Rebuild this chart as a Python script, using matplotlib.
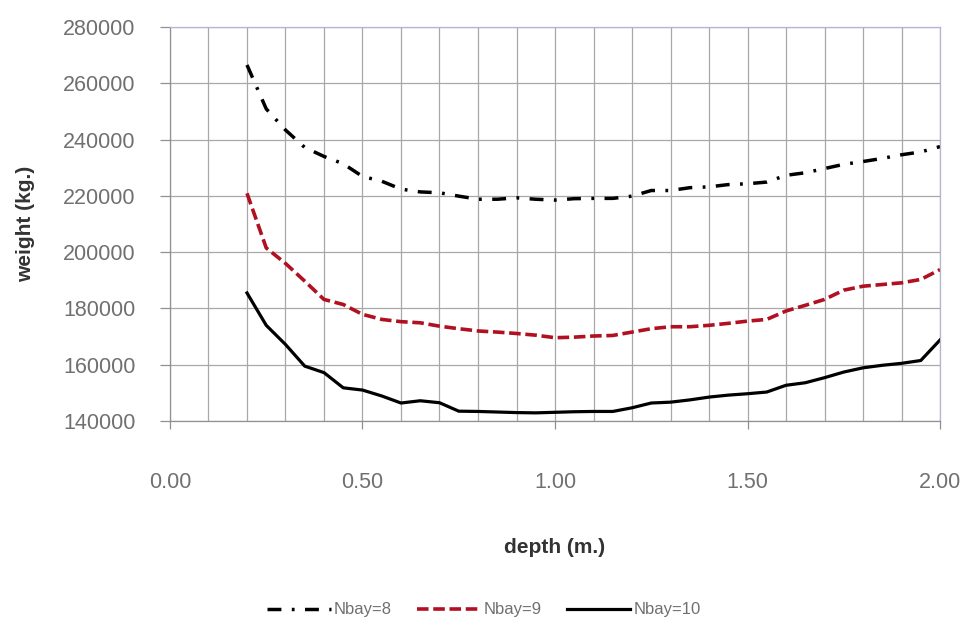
import matplotlib
matplotlib.use('Agg')
import matplotlib.pyplot as plt
from matplotlib.ticker import MultipleLocator

plt.rcParams['font.family'] = ['Liberation Sans', 'DejaVu Sans']

depth = [0.20, 0.25, 0.30, 0.35, 0.40, 0.45, 0.50, 0.55, 0.60, 0.65,
         0.70, 0.75, 0.80, 0.85, 0.90, 0.95, 1.00, 1.05, 1.10, 1.15,
         1.20, 1.25, 1.30, 1.35, 1.40, 1.45, 1.50, 1.55, 1.60, 1.65,
         1.70, 1.75, 1.80, 1.85, 1.90, 1.95, 2.00]

nbay8 = [266500, 250900, 243400, 237200, 234000, 231400, 226900, 225200, 222400, 221400,
         221100, 219900, 218800, 218800, 219300, 218800, 218500, 219000, 219100, 219100,
         219900, 221900, 221900, 222900, 223200, 224000, 224300, 224900, 227300, 228200,
         229700, 231200, 232200, 233300, 234600, 235600, 237500]

nbay9 = [220900, 201500, 196000, 189700, 183200, 181400, 177900, 176100, 175300, 174900,
         173700, 172800, 172000, 171600, 171100, 170500, 169600, 169800, 170200, 170400,
         171600, 172800, 173500, 173500, 174000, 174700, 175500, 176100, 179100, 181100,
         183200, 186500, 187900, 188500, 189100, 190300, 193800]

nbay10 = [185500, 174000, 167200, 159500, 157200, 151800, 151000, 148900, 146400, 147200,
          146500, 143500, 143400, 143200, 143000, 142900, 143100, 143300, 143400, 143400,
          144700, 146400, 146700, 147500, 148500, 149200, 149700, 150300, 152700, 153600,
          155400, 157400, 158900, 159800, 160500, 161500, 168800]

labels = ['Nbay=8', 'Nbay=9', 'Nbay=10']

fig = plt.figure(figsize=(9.68, 6.23), dpi=100)
ax = fig.add_axes([0.1756, 0.3242, 0.7955, 0.6325])

# lines
ax.plot(depth, nbay8, color='black', lw=2.5, linestyle=(0, (4, 3, 0.8, 3)), label=labels[0])
ax.plot(depth, nbay9, color='#b01020', lw=2.6, linestyle=(0, (3.2, 1.3)), label=labels[1])
ax.plot(depth, nbay10, color='black', lw=2.3, label=labels[2])

# axes range / ticks
ax.set_xlim(0, 2.0)
ax.set_ylim(140000, 280000)
ax.xaxis.set_major_locator(MultipleLocator(0.5))
ax.xaxis.set_minor_locator(MultipleLocator(0.1))
ax.yaxis.set_major_locator(MultipleLocator(20000))
ax.xaxis.set_major_formatter(plt.FuncFormatter(lambda v, p: '%.2f' % v))

ax.grid(True, which='both', axis='x', color='#a8a8a8', lw=0.9)
ax.grid(True, which='major', axis='y', color='#a8a8a8', lw=0.9)
ax.set_axisbelow(True)

ax.tick_params(axis='x', which='major', length=6, width=0.9, color='#909090',
               pad=31, labelsize=15.5, labelcolor='#707070')
ax.tick_params(axis='x', which='minor', length=0)
ax.tick_params(axis='y', length=7, width=0.9, color='#909090',
               pad=18, labelsize=15.5, labelcolor='#707070')

for s in ['top', 'right']:
    ax.spines[s].set_color('#b4b4d4')
for s in ['left', 'bottom']:
    ax.spines[s].set_color('#909090')
for s in ax.spines.values():
    s.set_linewidth(0.9)

# axis labels
ax.set_xlabel('depth (m.)', fontsize=15, fontweight='bold', color='#333333', labelpad=32)
ax.set_ylabel('weight (kg.)', fontsize=15, fontweight='bold', color='#333333', labelpad=20)

# legend
fig.legend(loc='center', bbox_to_anchor=(0.5, 0.021), ncol=3, frameon=False,
           fontsize=12, handlelength=3.8, columnspacing=1.5, handletextpad=0.2,
           labelcolor='#707070')

plt.savefig('out.png', dpi=100)
